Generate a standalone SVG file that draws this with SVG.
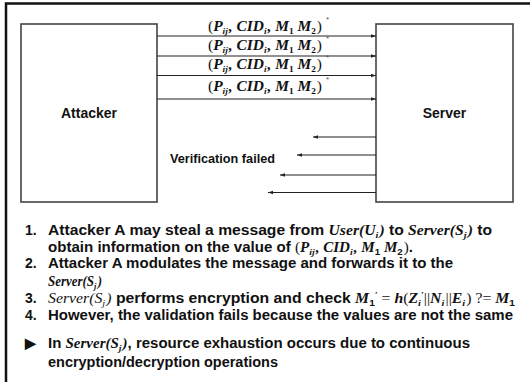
<svg xmlns="http://www.w3.org/2000/svg" width="530" height="382" viewBox="0 0 530 382">
  <defs>
    <marker id="ah" viewBox="0 0 6 6" refX="6" refY="3" markerWidth="5" markerHeight="5" orient="auto-start-reverse" markerUnits="userSpaceOnUse">
      <path d="M0,0.8 L6,3 L0,5.2 Z" fill="#222"/>
    </marker>
    <style>
      .frame { fill: none; stroke: #111; stroke-width: 2.5; }
      .box { fill: #fff; stroke: #444; stroke-width: 1.6; }
      .link { stroke: #222; stroke-width: 1.2; fill: none; }
      .t { font-family: "Liberation Sans", Arial, sans-serif; font-weight: bold; fill: #111; }
      .h { font-size: 14px; }
      .s { font-size: 12.5px; }
      .l { font-size: 14px; }
      .m { font-family: "Liberation Serif", "Times New Roman", serif; font-style: italic; font-weight: bold; }
      .mr { font-family: "Liberation Serif", "Times New Roman", serif; font-style: normal; font-weight: normal; }
      .mi { font-family: "Liberation Serif", "Times New Roman", serif; font-style: italic; font-weight: normal; }
      .sub { font-size: 9px; }
      .lab { font-family: "Liberation Serif", "Times New Roman", serif; font-size: 15px; fill: #111; }
      .ast { font-family: "Liberation Sans", sans-serif; font-size: 8px; fill: #555; }
    </style>
  </defs>

  <rect width="530" height="382" fill="#fff"/>
  <!-- outer frame, open to the right and bottom -->
  <path class="frame" d="M6,382 V3.5 H530"/>

  <g id="attacker">
    <rect class="box" x="21" y="24" width="136" height="178"/>
    <text class="t h" x="89" y="118" text-anchor="middle">Attacker</text>
  </g>

  <g id="server">
    <rect class="box" x="376" y="24" width="137" height="178"/>
    <text class="t h" x="444.5" y="118" text-anchor="middle">Server</text>
  </g>

  <g id="connectors">
    <line class="link" x1="157" y1="36" x2="376" y2="36" marker-end="url(#ah)"/>
    <line class="link" x1="157" y1="56" x2="376" y2="56" marker-end="url(#ah)"/>
    <line class="link" x1="157" y1="75.5" x2="376" y2="75.5" marker-end="url(#ah)"/>
    <line class="link" x1="157" y1="99" x2="376" y2="99" marker-end="url(#ah)"/>

    <line class="link" x1="376" y1="137" x2="313" y2="137" marker-end="url(#ah)"/>
    <line class="link" x1="376" y1="155" x2="297" y2="155" marker-end="url(#ah)"/>
    <line class="link" x1="376" y1="175" x2="280" y2="175" marker-end="url(#ah)"/>
    <line class="link" x1="376" y1="192.5" x2="268" y2="192.5" marker-end="url(#ah)"/>
  </g>

  <g id="message-labels">
    <text class="lab" x="208" y="31" textLength="114" lengthAdjust="spacingAndGlyphs"><tspan class="mr">(</tspan><tspan class="m">P</tspan><tspan class="m sub" dy="3">ij</tspan><tspan class="m" dy="-3" dx="1">, CID</tspan><tspan class="m sub" dy="3">i</tspan><tspan class="m" dy="-3" dx="1">, M</tspan><tspan class="sub" font-weight="bold" dy="3">1</tspan><tspan class="m" dy="-3"> M</tspan><tspan class="sub" font-weight="bold" dy="3">2</tspan><tspan class="mr" dy="-3" dx="1">)</tspan></text>
    <text class="ast" x="326" y="22">*</text>
    <text class="lab" x="208" y="50" textLength="114" lengthAdjust="spacingAndGlyphs"><tspan class="mr">(</tspan><tspan class="m">P</tspan><tspan class="m sub" dy="3">ij</tspan><tspan class="m" dy="-3" dx="1">, CID</tspan><tspan class="m sub" dy="3">i</tspan><tspan class="m" dy="-3" dx="1">, M</tspan><tspan class="sub" font-weight="bold" dy="3">1</tspan><tspan class="m" dy="-3"> M</tspan><tspan class="sub" font-weight="bold" dy="3">2</tspan><tspan class="mr" dy="-3" dx="1">)</tspan></text>
    <text class="ast" x="326" y="41">*</text>
    <text class="lab" x="208" y="69" textLength="114" lengthAdjust="spacingAndGlyphs"><tspan class="mr">(</tspan><tspan class="m">P</tspan><tspan class="m sub" dy="3">ij</tspan><tspan class="m" dy="-3" dx="1">, CID</tspan><tspan class="m sub" dy="3">i</tspan><tspan class="m" dy="-3" dx="1">, M</tspan><tspan class="sub" font-weight="bold" dy="3">1</tspan><tspan class="m" dy="-3"> M</tspan><tspan class="sub" font-weight="bold" dy="3">2</tspan><tspan class="mr" dy="-3" dx="1">)</tspan></text>
    <text class="ast" x="326" y="60">*</text>
    <text class="lab" x="208" y="91" textLength="114" lengthAdjust="spacingAndGlyphs"><tspan class="mr">(</tspan><tspan class="m">P</tspan><tspan class="m sub" dy="3">ij</tspan><tspan class="m" dy="-3" dx="1">, CID</tspan><tspan class="m sub" dy="3">i</tspan><tspan class="m" dy="-3" dx="1">, M</tspan><tspan class="sub" font-weight="bold" dy="3">1</tspan><tspan class="m" dy="-3"> M</tspan><tspan class="sub" font-weight="bold" dy="3">2</tspan><tspan class="mr" dy="-3" dx="1">)</tspan></text>
    <text class="ast" x="326" y="82">*</text>
    <text class="t s" x="170" y="163" textLength="105" lengthAdjust="spacingAndGlyphs">Verification failed</text>
  </g>

  <g id="notes">
    <text class="t l" x="25" y="235">1.</text>
    <text class="t l" x="48" y="235" textLength="444" lengthAdjust="spacingAndGlyphs">Attacker A may steal a message from <tspan class="m">User(U</tspan><tspan class="m sub" dy="3">i</tspan><tspan class="m" dy="-3" dx="1">)</tspan> to <tspan class="m">Server(S</tspan><tspan class="m sub" dy="3">j</tspan><tspan class="m" dy="-3" dx="1">)</tspan> to</text>
    <text class="t l" x="48" y="252" textLength="365" lengthAdjust="spacingAndGlyphs">obtain information on the value of <tspan class="mr">(</tspan><tspan class="m">P</tspan><tspan class="m sub" dy="3">ij</tspan><tspan class="m" dy="-3" dx="1">, CID</tspan><tspan class="m sub" dy="3">i</tspan><tspan class="m" dy="-3" dx="1">, M</tspan><tspan class="sub" dy="3">1</tspan><tspan class="m" dy="-3"> M</tspan><tspan class="sub" dy="3">2</tspan><tspan class="mr" dy="-3" dx="1">)</tspan>.</text>
    <text class="t l" x="25" y="268">2.</text>
    <text class="t l" x="48" y="268" textLength="405" lengthAdjust="spacingAndGlyphs">Attacker A modulates the message and forwards it to the</text>
    <text class="t l" x="48" y="286" textLength="54" lengthAdjust="spacingAndGlyphs"><tspan class="m">Server(S</tspan><tspan class="m sub" dy="3">j</tspan><tspan class="m" dy="-3" dx="1.5">)</tspan></text>
    <text class="t l" x="25" y="303">3.</text>
    <text class="t l" x="48" y="303" textLength="467" lengthAdjust="spacingAndGlyphs"><tspan class="mi">Server(S</tspan><tspan class="mi sub" dy="3">j</tspan><tspan class="mi" dy="-3" dx="1">)</tspan> performs encryption and check <tspan class="m">M</tspan><tspan class="sub" dy="3">1</tspan><tspan class="m sub" dy="-8">′</tspan><tspan class="mr" dy="5"> = </tspan><tspan class="m">h</tspan><tspan class="mr">(</tspan><tspan class="m">Z</tspan><tspan class="m sub" dy="3">i</tspan><tspan class="m sub" dy="-8">′</tspan><tspan class="mr" dy="5">||</tspan><tspan class="m">N</tspan><tspan class="m sub" dy="3">i</tspan><tspan class="mr" dy="-3" dx="1">||</tspan><tspan class="m">E</tspan><tspan class="m sub" dy="3">i</tspan><tspan class="mr" dy="-3" dx="1">) ?= </tspan><tspan class="m">M</tspan><tspan class="sub" dy="3">1</tspan></text>
    <text class="t l" x="25" y="320">4.</text>
    <text class="t l" x="48" y="320" textLength="465" lengthAdjust="spacingAndGlyphs">However, the validation fails because the values are not the same</text>
    <text class="t l" x="25" y="348" font-family="DejaVu Sans" font-size="11">▶</text>
    <text class="t l" x="48" y="348" textLength="422" lengthAdjust="spacingAndGlyphs">In <tspan class="m">Server(S</tspan><tspan class="m sub" dy="3">j</tspan><tspan class="m" dy="-3" dx="1">)</tspan>, resource exhaustion occurs due to continuous</text>
    <text class="t l" x="48" y="367" textLength="230" lengthAdjust="spacingAndGlyphs">encryption/decryption operations</text>
  </g>
</svg>
